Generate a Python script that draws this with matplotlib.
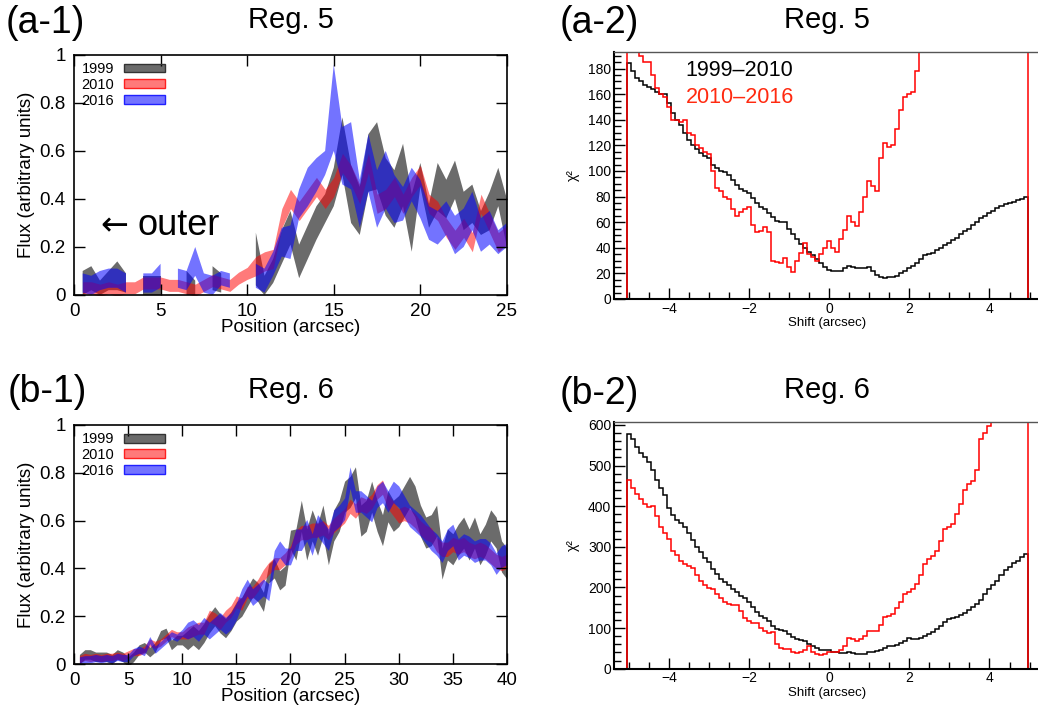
import numpy as np
import matplotlib
matplotlib.use("Agg")
import matplotlib.pyplot as plt
from matplotlib.patches import Patch
from matplotlib.ticker import MultipleLocator

plt.rcParams['font.family'] = ['Liberation Sans', 'DejaVu Sans']

nan = np.nan

# ---- profile data (Reg. 5), positions 0.5 .. 25 arcsec ----
pos_a = np.arange(1, 51) * 0.5
a_1999 = [0.05, 0.07, 0.03, 0.06, 0.08, 0.05, nan, 0.04, 0.04, 0.04,
          nan, nan, 0.05, 0.03, nan, 0.07, 0.05, nan, nan, nan,
          0.15, 0.04, 0.10, 0.20, 0.28, 0.14, 0.22, 0.30, 0.36, 0.45,
          0.62, 0.42, 0.35, 0.55, 0.58, 0.45, 0.40, 0.50, 0.30, 0.50,
          0.33, 0.45, 0.40, 0.48, 0.35, 0.38, 0.30, 0.35, 0.45, 0.30]
a_1999_err = [0.05, 0.05, 0.03, 0.04, 0.06, 0.04, nan, 0.04, 0.04, 0.04,
              nan, nan, 0.05, 0.03, nan, 0.05, 0.04, nan, nan, nan,
              0.11, 0.04, 0.05, 0.07, 0.07, 0.07, 0.07, 0.07, 0.06, 0.08,
              0.12, 0.12, 0.10, 0.12, 0.14, 0.12, 0.12, 0.13, 0.12, 0.05,
              0.05, 0.10, 0.08, 0.08, 0.08, 0.08, 0.05, 0.08, 0.08, 0.10]
a_2010 = [0.03, 0.03, 0.02, 0.03, 0.02, 0.03, 0.03, 0.05, 0.05, 0.05,
          0.04, 0.04, 0.03, 0.02, 0.04, 0.06, 0.05, 0.04, 0.07, 0.09,
          0.12, 0.14, 0.15, 0.32, 0.40, 0.35, 0.40, 0.45, 0.40, 0.45,
          0.55, 0.50, 0.42, 0.55, 0.38, 0.40, 0.45, 0.38, 0.45, 0.50,
          0.38, 0.35, 0.28, 0.23, 0.28, 0.22, 0.38, 0.30, 0.22, 0.25]
a_2010_err = [0.025] * 20 + [0.04] * 30
a_2016 = [0.05, 0.04, 0.06, 0.07, 0.07, 0.05, nan, 0.05, 0.05, 0.08,
          nan, 0.07, 0.06, 0.14, 0.05, 0.04, 0.07, 0.06, nan, nan,
          0.08, 0.06, 0.13, 0.22, 0.22, 0.38, 0.45, 0.50, 0.55, 0.78,
          0.58, 0.58, 0.38, 0.55, 0.40, 0.48, 0.40, 0.38, 0.46, 0.40,
          0.30, 0.28, 0.32, 0.25, 0.28, 0.35, 0.25, 0.28, 0.22, 0.25]
a_2016_err = [0.04, 0.04, 0.04, 0.04, 0.04, 0.04, nan, 0.04, 0.04, 0.05,
              nan, 0.04, 0.04, 0.06, 0.04, 0.04, 0.03, 0.03, nan, nan,
              0.05, 0.05, 0.05, 0.06, 0.07, 0.06, 0.08, 0.07, 0.05, 0.18,
              0.12, 0.14, 0.10, 0.12, 0.12, 0.12, 0.10, 0.07, 0.07, 0.08,
              0.07, 0.07, 0.07, 0.08, 0.08, 0.08, 0.07, 0.07, 0.05, 0.05]

# ---- profile data (Reg. 6), positions 0.5 .. 40 arcsec ----
pos_b = np.arange(1, 81) * 0.5
b_1999 = [0.02, 0.04, 0.04, 0.03, 0.03, 0.03, 0.02, 0.04, 0.03, 0.01,
          0.03, 0.06, 0.07, 0.05, 0.07, 0.12, 0.13, 0.08, 0.10, 0.10,
          0.10, 0.12, 0.10, 0.13, 0.17, 0.20, 0.17, 0.15, 0.18, 0.22,
          0.24, 0.28, 0.32, 0.30, 0.26, 0.38, 0.40, 0.35, 0.37, 0.52,
          0.50, 0.62, 0.50, 0.58, 0.52, 0.60, 0.48, 0.58, 0.62, 0.70,
          0.72, 0.76, 0.60, 0.62, 0.70, 0.62, 0.56, 0.66, 0.62, 0.64,
          0.68, 0.72, 0.68, 0.60, 0.55, 0.56, 0.60, 0.42, 0.50, 0.48,
          0.52, 0.55, 0.50, 0.55, 0.48, 0.52, 0.58, 0.55, 0.45, 0.42]
b_2010 = [0.02, 0.03, 0.025, 0.03, 0.025, 0.03, 0.03, 0.035, 0.03, 0.04,
          0.05, 0.05, 0.06, 0.09, 0.08, 0.09, 0.11, 0.13, 0.12, 0.12,
          0.13, 0.14, 0.15, 0.15, 0.20, 0.19, 0.17, 0.20, 0.22, 0.26,
          0.25, 0.30, 0.30, 0.33, 0.37, 0.40, 0.42, 0.42, 0.44, 0.47,
          0.53, 0.55, 0.55, 0.56, 0.56, 0.57, 0.55, 0.58, 0.60, 0.62,
          0.66, 0.64, 0.67, 0.66, 0.68, 0.72, 0.74, 0.68, 0.65, 0.62,
          0.63, 0.62, 0.60, 0.57, 0.55, 0.54, 0.50, 0.48, 0.48, 0.50,
          0.49, 0.50, 0.48, 0.47, 0.48, 0.47, 0.45, 0.43, 0.42, 0.43]
b_2016 = [0.015, 0.02, 0.02, 0.025, 0.02, 0.025, 0.02, 0.03, 0.025, 0.025,
          0.05, 0.06, 0.05, 0.10, 0.06, 0.08, 0.10, 0.12, 0.11, 0.13,
          0.14, 0.15, 0.13, 0.16, 0.14, 0.16, 0.18, 0.16, 0.18, 0.22,
          0.28, 0.32, 0.28, 0.30, 0.32, 0.30, 0.44, 0.48, 0.45, 0.45,
          0.52, 0.52, 0.56, 0.50, 0.58, 0.55, 0.52, 0.60, 0.62, 0.65,
          0.78, 0.68, 0.68, 0.66, 0.64, 0.70, 0.72, 0.68, 0.72, 0.70,
          0.66, 0.62, 0.60, 0.58, 0.55, 0.52, 0.50, 0.47, 0.52, 0.54,
          0.48, 0.50, 0.49, 0.47, 0.48, 0.48, 0.46, 0.42, 0.45, 0.46]
b_1999_err = [0.02] * 20 + [0.04] * 20 + [0.065] * 40
b_2010_err = [0.015] * 20 + [0.025] * 20 + [0.03] * 40
b_2016_err = [0.015] * 20 + [0.035] * 20 + [0.045] * 40

# ---- chi^2 vs shift, bin centres -5.0 .. 4.9 arcsec ----
shift = np.arange(-50, 50) / 10
chi_a_9910 = [184, 178, 173, 170, 167, 166, 164, 162, 160, 160,
              153, 145, 140, 136, 130, 124, 120, 117, 114, 112,
              110, 105, 102, 100, 99, 97, 93, 89, 86, 84,
              83, 79, 75, 72, 70, 67, 64, 61, 60, 60,
              55, 51, 47, 43, 40, 37, 34, 31, 28, 25,
              23, 22, 22, 22, 24, 26, 25, 24, 24, 24,
              25, 22, 19, 17, 16, 17, 17, 18, 20, 22,
              24, 26, 28, 31, 34, 35, 36, 38, 40, 42,
              44, 46, 48, 51, 53, 55, 58, 60, 63, 65,
              67, 69, 71, 73, 74, 75, 76, 77, 78, 80]
chi_a_1016 = [250, 220, 200, 190, 185, 185, 175, 165, 160, 158,
              150, 140, 140, 138, 140, 130, 128, 120, 118, 115,
              113, 100, 87, 84, 80, 78, 70, 65, 68, 70,
              72, 58, 52, 53, 56, 52, 30, 29, 28, 32,
              25, 21, 30, 36, 44, 35, 33, 30, 35, 40,
              45, 40, 37, 47, 54, 65, 60, 57, 68, 80,
              92, 88, 84, 110, 122, 119, 120, 133, 148, 158,
              160, 162, 178, 200, 215, 230, 250, 270, 290, 310,
              330, 350, 370, 390, 410, 430, 450, 470, 490, 510,
              530, 550, 570, 590, 610, 630, 650, 670, 690, 710]
chi_b_9910 = [578, 565, 545, 530, 520, 510, 490, 465, 445, 428,
              395, 378, 367, 358, 350, 335, 318, 300, 287, 273,
              262, 245, 233, 222, 213, 205, 197, 188, 180, 173,
              165, 152, 140, 130, 124, 117, 105, 98, 95, 92,
              85, 78, 72, 70, 67, 60, 55, 50, 47, 46,
              45, 42, 40, 38, 38, 40, 38, 36, 35, 37,
              42, 42, 43, 45, 52, 55, 56, 58, 63, 68,
              75, 73, 73, 76, 80, 85, 90, 97, 105, 115,
              123, 125, 127, 132, 138, 145, 152, 160, 170, 185,
              195, 205, 215, 230, 243, 250, 260, 265, 275, 283]
chi_b_1016 = [465, 445, 430, 418, 405, 398, 400, 375, 350, 335,
              320, 290, 280, 265, 258, 252, 248, 230, 215, 205,
              198, 195, 185, 175, 165, 160, 158, 158, 142, 125,
              118, 113, 112, 100, 92, 88, 90, 62, 52, 48,
              48, 40, 38, 40, 45, 55, 42, 36, 33, 36,
              42, 40, 40, 45, 55, 75, 72, 68, 73, 80,
              92, 92, 93, 108, 128, 130, 135, 150, 163, 185,
              188, 195, 208, 230, 258, 270, 278, 290, 315, 345,
              350, 357, 380, 405, 440, 455, 462, 490, 565, 580,
              598, 610, 625, 640, 660, 680, 700, 720, 740, 760]

years = ['1999', '2010', '2016']
band_colors = [(0, 0, 0, 0.58), (1, 0, 0, 0.52), (0, 0, 1, 0.55)]
edge_colors = ['#333333', '#ff2020', '#2020ff']

fig = plt.figure(figsize=(10.38, 7.12), dpi=100)


def profile_panel(rect, pos, series, errs, xmax):
    ax = fig.add_axes(rect)
    for vals, err, col in zip(series, errs, band_colors):
        v = np.array(vals, dtype=float)
        e = np.array(err, dtype=float)
        ax.fill_between(pos, v - e, v + e, color=col, lw=0)
    ax.set_xlim(0, xmax)
    ax.set_ylim(0, 1)
    ax.xaxis.set_major_locator(MultipleLocator(5))
    ax.yaxis.set_major_locator(MultipleLocator(0.2))
    ax.yaxis.set_major_formatter(plt.FuncFormatter(lambda v, p: f"{v:g}"))
    ax.tick_params(direction='in', top=True, right=True, length=8, width=1,
                   labelsize=13.5, pad=6)
    for s in ax.spines.values():
        s.set_linewidth(1.2)
    ax.set_xlabel('Position (arcsec)', fontsize=13.5, labelpad=-1)
    ax.set_ylabel('Flux (arbitrary units)', fontsize=13.5, labelpad=3)
    handles = [Patch(facecolor=c, edgecolor=ec, lw=1) for c, ec in zip(band_colors, edge_colors)]
    ax.legend(handles, years, loc='upper left', markerfirst=False, frameon=False,
              fontsize=10.5, handlelength=2.8, handleheight=0.55, handletextpad=0.7,
              labelspacing=0.12, borderaxespad=0.2, borderpad=0.3)
    return ax


def chi_panel(rect, hists, ymax, ymajor, yminor):
    ax = fig.add_axes(rect)
    xlim = (-5.37, 5.26)
    edges = np.r_[xlim[0], shift - 0.05, shift[-1] + 0.05, xlim[1]]
    for vals, col in zip(hists, ['black', 'red']):
        ax.stairs(np.r_[0, vals, 0], edges, baseline=None, color=col, lw=1.1)
    ax.set_xlim(*xlim)
    ax.set_ylim(0, ymax)
    ax.xaxis.set_major_locator(MultipleLocator(2))
    ax.xaxis.set_minor_locator(MultipleLocator(0.5))
    ax.yaxis.set_major_locator(MultipleLocator(ymajor))
    ax.yaxis.set_minor_locator(MultipleLocator(yminor))
    ax.tick_params(which='both', direction='in', top=False, right=False,
                   labelsize=10, pad=2, width=1)
    ax.tick_params(which='major', length=8)
    ax.tick_params(which='minor', length=5)
    ax.spines['right'].set_visible(False)
    ax.spines['top'].set_color('#555555')
    ax.spines['top'].set_linewidth(1)
    ax.spines['left'].set_linewidth(1.5)
    ax.spines['bottom'].set_linewidth(1.5)
    ax.set_xlabel('Shift (arcsec)', fontsize=9.5, labelpad=1)
    ax.set_ylabel('χ²', fontsize=10, labelpad=6)
    return ax


ax1 = profile_panel([0.0713, 0.5857, 0.4171, 0.3371], pos_a,
                    [a_1999, a_2010, a_2016], [a_1999_err, a_2010_err, a_2016_err], 25)
ax1.text(1.5, 0.29, '←', fontsize=24, va='center', ha='left', family=['DejaVu Sans'])
ax1.text(3.65, 0.29, 'outer', fontsize=26, va='center', ha='left')

ax3 = profile_panel([0.0713, 0.0674, 0.4171, 0.3357], pos_b,
                    [b_1999, b_2010, b_2016], [b_1999_err, b_2010_err, b_2016_err], 40)

ax2 = chi_panel([0.5915, 0.5801, 0.4104, 0.3469], [chi_a_9910, chi_a_1016], 193, 20, 5)
ax2.text(0.168, 0.924, '1999–2010', color='black', fontsize=15.5,
         transform=ax2.transAxes, va='center')
ax2.text(0.168, 0.814, '2010–2016', color='#ff2a10', fontsize=15.5,
         transform=ax2.transAxes, va='center')

ax4 = chi_panel([0.5915, 0.0608, 0.4104, 0.3469], [chi_b_9910, chi_b_1016], 608, 100, 20)

# panel labels and titles
fig.text(0.005, 0.968, '(a-1)', fontsize=27, va='center', ha='left')
fig.text(0.280, 0.972, 'Reg. 5', fontsize=21, va='center', ha='center')
fig.text(0.539, 0.968, '(a-2)', fontsize=27, va='center', ha='left')
fig.text(0.797, 0.972, 'Reg. 5', fontsize=21, va='center', ha='center')
fig.text(0.007, 0.449, '(b-1)', fontsize=27, va='center', ha='left')
fig.text(0.280, 0.452, 'Reg. 6', fontsize=21, va='center', ha='center')
fig.text(0.539, 0.447, '(b-2)', fontsize=27, va='center', ha='left')
fig.text(0.797, 0.452, 'Reg. 6', fontsize=21, va='center', ha='center')

fig.savefig('out.png', dpi=100)
